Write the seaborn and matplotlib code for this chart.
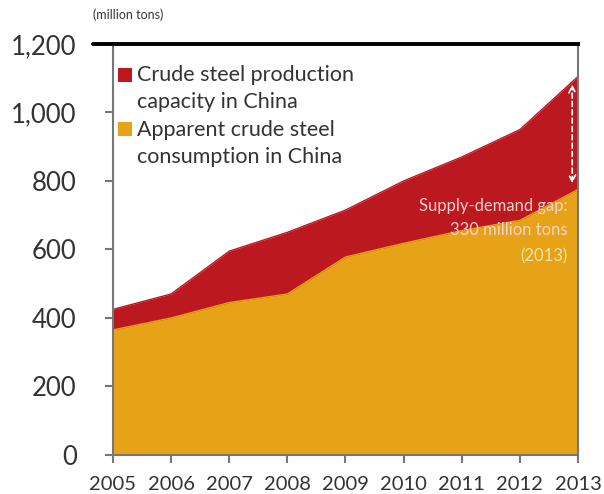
import matplotlib
matplotlib.use('Agg')
import matplotlib.pyplot as plt
from matplotlib.patches import Rectangle
import seaborn as sns
import pandas as pd

# values (million tons)
years = [2005, 2006, 2007, 2008, 2009, 2010, 2011, 2012, 2013]
capacity = [425, 470, 595, 650, 715, 800, 870, 950, 1105]
consumption = [365, 400, 445, 470, 578, 618, 655, 685, 775]
y_ticks = [0, 200, 400, 600, 800, 1000, 1200]

red = '#bb1820'
yellow = '#e6a317'
grey = '#777777'

df = pd.DataFrame({'year': years, 'capacity': capacity, 'consumption': consumption})

sns.set_style('ticks')
plt.rcParams['font.family'] = ['Lato', 'DejaVu Sans']

fig = plt.figure(figsize=(6.04, 4.94), dpi=100)
ax = fig.add_axes([0.187, 0.079, 0.77, 0.832])

ax.fill_between(df['year'], 0, df['capacity'], color=red, lw=0)
ax.fill_between(df['year'], 0, df['consumption'], color=yellow, lw=0)
sns.lineplot(data=df, x='year', y='capacity', ax=ax, color=red, lw=1)
sns.lineplot(data=df, x='year', y='consumption', ax=ax, color=yellow, lw=1)

ax.set_xlim(years[0], years[-1])
ax.set_ylim(0, 1200)
ax.set_xticks(years)
ax.set_xticklabels([str(y) for y in years], fontsize=14.5, color='#333333')
ax.set_yticks(y_ticks)
ax.set_yticklabels([f'{v:,}' for v in y_ticks], fontsize=18.5, color='#333333')
ax.set_xlabel('')
ax.set_ylabel('')
ax.tick_params(axis='both', color=grey, width=1.5, length=6)
ax.tick_params(axis='y', pad=20)
ax.tick_params(axis='x', pad=9)

for side in ['left', 'right', 'bottom']:
    ax.spines[side].set_color(grey)
    ax.spines[side].set_linewidth(1.5)
ax.spines['top'].set_color('black')
ax.spines['top'].set_linewidth(2.8)
ax.plot([2004.65, 2005], [1200, 1200], color='black', lw=2.8, clip_on=False)

# legend
legend_items = [(red, 0.908, ['Crude steel production', 'capacity in China']),
                (yellow, 0.776, ['Apparent crude steel', 'consumption in China'])]
line_y = [0.925, 0.858, 0.791, 0.724]
k = 0
for c, sq_y, lines in legend_items:
    ax.add_patch(Rectangle((0.011, sq_y), 0.030, 0.034, transform=ax.transAxes,
                           color=c, lw=0))
    for line in lines:
        ax.text(0.052, line_y[k], line, transform=ax.transAxes, color='#333333',
                fontsize=15.5, va='center', ha='left')
        k += 1

ax.text(-0.043, 1.055, '(million tons)', transform=ax.transAxes, fontsize=9,
        color='#333333', ha='left', va='bottom')

# supply-demand gap
ax.annotate('', xy=(2012.9, capacity[-1] - 15), xytext=(2012.9, consumption[-1] + 10),
            arrowprops=dict(arrowstyle='<->', color='white', lw=1.2,
                            linestyle=(0, (3, 2)), mutation_scale=12))
ax.text(2012.82, 726, 'Supply-demand gap:', ha='right', va='center',
        fontsize=12, color='#f7d3c6')
ax.text(2012.82, 656, '330 million tons', ha='right', va='center',
        fontsize=12, color='#f7d3c6')
ax.text(2012.82, 580, '(2013)', ha='right', va='center', fontsize=12, color='#f8e4a6')

fig.savefig('out.png', dpi=100)
